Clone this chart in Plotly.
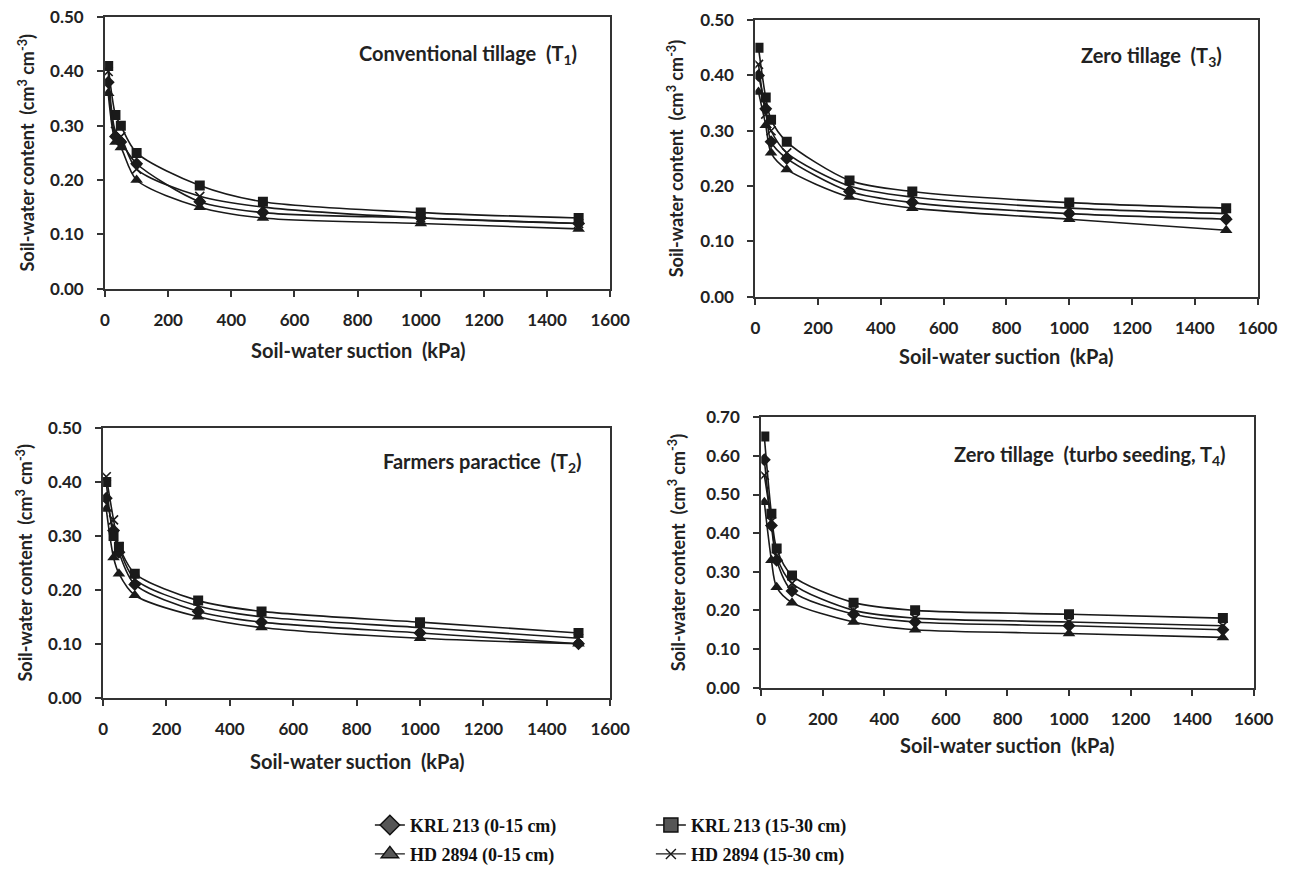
import plotly.graph_objects as go

W, H = 1307, 873
# empirically measured vertical mapping of the photographed page: shot_y = VS * (page_y + VT)
VS, VT = 0.976, 10.0

suction = [10, 33, 50, 100, 300, 500, 1000, 1500]

series_names = ["KRL 213 (0-15 cm)", "KRL 213 (15-30 cm)", "HD 2894 (0-15 cm)", "HD 2894 (15-30 cm)"]

# Conventional tillage (T1)
t1_krl_0_15 = [0.38, 0.28, 0.27, 0.23, 0.16, 0.14, 0.13, 0.12]
t1_krl_15_30 = [0.41, 0.32, 0.30, 0.25, 0.19, 0.16, 0.14, 0.13]
t1_hd_0_15 = [0.36, 0.27, 0.26, 0.20, 0.15, 0.13, 0.12, 0.11]
t1_hd_15_30 = [0.40, 0.29, 0.28, 0.22, 0.17, 0.15, 0.13, 0.12]

# Zero tillage (T3)
t3_krl_0_15 = [0.40, 0.34, 0.28, 0.25, 0.19, 0.17, 0.15, 0.14]
t3_krl_15_30 = [0.45, 0.36, 0.32, 0.28, 0.21, 0.19, 0.17, 0.16]
t3_hd_0_15 = [0.37, 0.31, 0.26, 0.23, 0.18, 0.16, 0.14, 0.12]
t3_hd_15_30 = [0.42, 0.33, 0.30, 0.26, 0.20, 0.18, 0.16, 0.15]

# Farmers practice (T2)
t2_krl_0_15 = [0.37, 0.31, 0.27, 0.21, 0.16, 0.14, 0.12, 0.10]
t2_krl_15_30 = [0.40, 0.30, 0.28, 0.23, 0.18, 0.16, 0.14, 0.12]
t2_hd_0_15 = [0.35, 0.26, 0.23, 0.19, 0.15, 0.13, 0.11, 0.10]
t2_hd_15_30 = [0.41, 0.33, 0.28, 0.22, 0.17, 0.15, 0.13, 0.11]

# Zero tillage turbo seeding (T4)
t4_krl_0_15 = [0.59, 0.42, 0.33, 0.25, 0.19, 0.17, 0.16, 0.15]
t4_krl_15_30 = [0.65, 0.45, 0.36, 0.29, 0.22, 0.20, 0.19, 0.18]
t4_hd_0_15 = [0.48, 0.33, 0.26, 0.22, 0.17, 0.15, 0.14, 0.13]
t4_hd_15_30 = [0.55, 0.43, 0.34, 0.27, 0.20, 0.18, 0.17, 0.16]

x_ticks = [0, 200, 400, 600, 800, 1000, 1200, 1400, 1600]


def fx(px):
    return px / W


def fy(py):
    return 1 - (py / VS - VT) / H


panels = [
    dict(title="Conventional tillage  (T<sub>1</sub>)", data=[t1_krl_0_15, t1_krl_15_30, t1_hd_0_15, t1_hd_15_30],
         ymax=0.5, px=(102, 617), py=(16, 288), title_pos=(585, 53), xtitle_y=350, ytitle_x=22),
    dict(title="Zero tillage  (T<sub>3</sub>)", data=[t3_krl_0_15, t3_krl_15_30, t3_hd_0_15, t3_hd_15_30],
         ymax=0.5, px=(765, 1277), py=(19, 296), title_pos=(1243, 55), xtitle_y=356, ytitle_x=684),
    dict(title="Farmers paractice  (T<sub>2</sub>)", data=[t2_krl_0_15, t2_krl_15_30, t2_hd_0_15, t2_hd_15_30],
         ymax=0.5, px=(100, 617), py=(428, 698), title_pos=(590, 462), xtitle_y=762, ytitle_x=20),
    dict(title="Zero tillage  (turbo seeding, T<sub>4</sub>)", data=[t4_krl_0_15, t4_krl_15_30, t4_hd_0_15, t4_hd_15_30],
         ymax=0.7, px=(771, 1273), py=(417, 688), title_pos=(1247, 455), xtitle_y=746, ytitle_x=686),
]

symbols = ["diamond", "square", "triangle-up", "x-thin"]
sizes = [10, 10, 11, 9]
legend_sizes = [15, 14, 15, 10]
ink = "#1a1a1a"
axis_col = "#333333"
txt_col = "#222222"
tick_font = dict(family="Lato", size=17, color=txt_col, weight="bold")

fig = go.Figure()
annotations = []

for i, p in enumerate(panels):
    n = "" if i == 0 else str(i + 1)
    xa, ya = "x" + n, "y" + n
    for j, vals in enumerate(p["data"]):
        marker = dict(symbol=symbols[j], size=sizes[j], color=ink)
        if symbols[j] == "x-thin":
            marker["line"] = dict(width=1.6, color=ink)
        fig.add_trace(go.Scatter(
            x=suction, y=vals, mode="lines+markers",
            line=dict(color=ink, width=1.6, shape="spline", smoothing=0.8),
            marker=marker, name=series_names[j],
            showlegend=False, xaxis=xa, yaxis=ya))
    x0, x1 = p["px"]
    y0, y1 = p["py"]
    ymax = p["ymax"]
    yt = [round(k * 0.1, 2) for k in range(int(round(ymax * 10)) + 1)]
    fig.update_layout(**{
        ("xaxis" + n): dict(domain=[fx(x0), fx(x1)], range=[0, 1600], tickvals=x_ticks,
                            ticks="outside", ticklen=6, tickwidth=1.5, tickcolor=axis_col,
                            showline=True, linewidth=2, linecolor=axis_col, mirror=True,
                            showgrid=False, zeroline=False, tickfont=tick_font,
                            ticklabelstandoff=9, anchor=ya),
        ("yaxis" + n): dict(domain=[fy(y1), fy(y0)], range=[0, ymax], tickvals=yt,
                            tickformat=".2f", ticks="outside", ticklen=6, tickwidth=1.5,
                            tickcolor=axis_col, showline=True, linewidth=2, linecolor=axis_col,
                            mirror=True, showgrid=False, zeroline=False, tickfont=tick_font,
                            ticklabelstandoff=10, anchor=xa),
    })
    tx, ty = p["title_pos"]
    annotations.append(dict(text="<b>" + p["title"] + "</b>", x=fx(tx), y=fy(ty), xref="paper", yref="paper",
                            xanchor="right", yanchor="middle", showarrow=False,
                            font=dict(family="Lato", size=20, color=txt_col)))
    annotations.append(dict(text="<b>Soil-water suction  (kPa)</b>", x=fx((x0 + x1) / 2), y=fy(p["xtitle_y"]),
                            xref="paper", yref="paper", xanchor="center", yanchor="middle", showarrow=False,
                            font=dict(family="Lato", size=20, color=txt_col)))
    annotations.append(dict(text="<b>Soil-water content  (cm<sup>3</sup> cm<sup>-3</sup>)</b>",
                            x=fx(p["ytitle_x"]), y=fy((y0 + y1) / 2), xref="paper", yref="paper",
                            xanchor="center", yanchor="middle", textangle=-90, showarrow=False,
                            font=dict(family="Lato", size=18, color=txt_col)))

# legend-only entries (no data points), styled like the original key
for j, name in enumerate(series_names):
    if symbols[j] == "x-thin":
        lmarker = dict(symbol="x-thin", size=legend_sizes[j], color=ink, line=dict(width=1.4, color=ink))
    else:
        lmarker = dict(symbol=symbols[j], size=legend_sizes[j], color="#555555", line=dict(width=1.5, color="#111111"))
    fig.add_trace(go.Scatter(x=[None], y=[None], mode="lines+markers", name=name,
                             line=dict(color=ink, width=1.4), marker=lmarker,
                             legend="legend" if j in (0, 1) else "legend2", showlegend=True,
                             hoverinfo="skip"))

legend_common = dict(orientation="h", xref="paper", yref="paper", xanchor="left", yanchor="middle",
                     entrywidth=236, entrywidthmode="pixels", bgcolor="rgba(0,0,0,0)",
                     font=dict(family="Liberation Serif", size=18, color="#111111", weight="bold"),
                     itemsizing="trace", tracegroupgap=0)

fig.update_layout(
    width=W, height=H,
    margin=dict(l=0, r=0, t=0, b=0),
    paper_bgcolor="white", plot_bgcolor="white",
    annotations=annotations,
    legend=dict(x=fx(372), y=fy(826), **legend_common),
    legend2=dict(x=fx(372), y=fy(855), **legend_common),
)

page_css = ("document.documentElement.style.margin='0';document.documentElement.style.padding='0';"
            "document.documentElement.style.overflow='hidden';"
            "document.body.style.margin='0';document.body.style.padding='0';document.body.style.overflow='hidden';")

fig.write_html("out.html", post_script=page_css, config={"displayModeBar": False})
